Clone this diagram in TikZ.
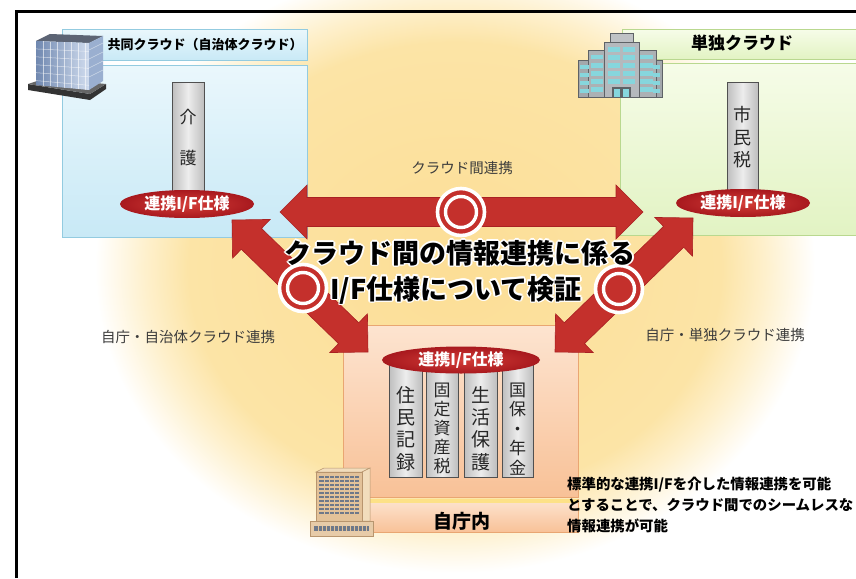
\documentclass[tikz,border=0pt]{standalone}
\usepackage{fontspec}
\setmainfont{Noto Sans CJK JP}
\usetikzlibrary{shapes.geometric}

\definecolor{glowin}{HTML}{FCDE96}
\definecolor{glowmid}{HTML}{FCE4A6}
\definecolor{glowfade}{HTML}{FEF0CC}
\definecolor{arrowred}{HTML}{C4302C}
\definecolor{arrowedge}{HTML}{A92123}
\definecolor{ellin}{HTML}{D43D38}
\definecolor{ellout}{HTML}{A8191E}
\definecolor{blueline}{HTML}{93CBE0}
\definecolor{bluetop}{HTML}{EAF7FC}
\definecolor{bluebot}{HTML}{C8E9F6}
\definecolor{greenline}{HTML}{B9D88F}
\definecolor{greentop}{HTML}{F6FCE8}
\definecolor{greenbot}{HTML}{E2F3C3}
\definecolor{orline}{HTML}{E9A672}
\definecolor{ortop}{HTML}{FDE4D0}
\definecolor{orbot}{HTML}{F8C197}
\definecolor{barline}{HTML}{505050}
\definecolor{barside}{HTML}{BEBEBE}
\definecolor{barmid}{HTML}{EDEDED}
\definecolor{labelgray}{HTML}{3C3C3C}
\definecolor{bldgray}{HTML}{A3A8AC}
\definecolor{bldline}{HTML}{5E6266}
\definecolor{bldwin}{HTML}{86D6DD}
\definecolor{beige}{HTML}{E3C299}
\definecolor{beigeline}{HTML}{B8956E}
\definecolor{beigelight}{HTML}{F2DDBC}
\definecolor{winblue}{HTML}{6E7889}
\definecolor{glassdark}{HTML}{7088B0}
\definecolor{glasslight}{HTML}{D0DCEE}
\definecolor{glassside}{HTML}{9AAFD0}
\definecolor{glasstop}{HTML}{5C6474}

\pgfdeclareradialshading{glow}{\pgfpoint{0bp}{0bp}}{%
  color(0bp)=(glowin); color(18.5bp)=(glowmid); color(21.5bp)=(glowfade);
  color(25bp)=(white); color(50bp)=(white)}

% double-headed block arrow between two named points
\newcommand\blockarrow[2]{%
  \pgfpointdiff{\pgfpointanchor{#1}{center}}{\pgfpointanchor{#2}{center}}%
  \pgfgetlastxy{\bax}{\bay}%
  \pgfmathsetmacro\baang{atan2(\bay,\bax)}%
  \pgfmathsetmacro\balen{veclen(\bax,\bay)}%
  \pgfmathsetmacro\bab{\balen-27}%
  \begin{scope}[shift={(#1)},rotate=\baang]
    \fill[arrowred, draw=arrowedge, line width=0.6pt]
      (0pt,0pt) -- (27pt,27pt) -- (27pt,14.5pt) -- (\bab pt,14.5pt) -- (\bab pt,27pt)
      -- (\balen pt,0pt) -- (\bab pt,-27pt) -- (\bab pt,-14.5pt) -- (27pt,-14.5pt)
      -- (27pt,-27pt) -- cycle;
  \end{scope}}

% bold heading text with a thin white halo
\newcommand\halotext[4]{%
  \foreach \hx/\hy in {1.7/0,-1.7/0,0/1.7,0/-1.7,1.2/1.2,-1.2/1.2,1.2/-1.2,-1.2/-1.2}
    \node[titletext, text=white, xshift=\hx pt, yshift=\hy pt] at (#2,#3) {#4};
  \node[titletext] (#1) at (#2,#3) {#4};}

\begin{document}
\begin{tikzpicture}[x=1pt,y=-1pt,
  cloudbox/.style={anchor=north west, inner sep=0pt, line width=0.8pt},
  bluebox/.style={cloudbox, draw=blueline, top color=bluetop, bottom color=bluebot},
  greenbox/.style={cloudbox, draw=greenline, top color=greentop, bottom color=greenbot},
  orangebox/.style={cloudbox, draw=orline, top color=ortop, bottom color=orbot},
  barbox/.style={draw=barline, line width=1pt, left color=barside, right color=barside,
    middle color=barmid, inner sep=0pt},
  bartext/.style={align=center, text=black!85, inner sep=0pt},
  ifspec/.style={ellipse, inner sep=0pt, inner color=ellin, outer color=ellout, text=white,
    font=\fontsize{16}{18}\selectfont\bfseries},
  ringmark/.style={circle, fill=arrowred, draw=white, line width=3.6pt, minimum size=47pt,
    inner sep=0pt},
  lbl/.style={text=labelgray, inner sep=0pt, font=\fontsize{14.5}{16}\selectfont},
  titletext/.style={inner sep=0pt, font=\fontsize{27}{30}\selectfont\bfseries},
  headtext/.style={inner sep=0pt},
]
\useasboundingbox (0,0) rectangle (856,578);
\clip (0,0) rectangle (856,578);
\fill[white] (0,0) rectangle (856,578);

% warm background glow
\shade[shading=glow] (455,268) ellipse [x radius=360, y radius=305];

% cloud boxes
\node[bluebox, minimum width=245pt, minimum height=172pt] (lbox) at (62,65) {};
\node[bluebox, minimum width=245pt, minimum height=31pt] (lhead) at (62,29) {};
\node[greenbox, minimum width=260pt, minimum height=172pt] (rbox) at (620,63) {};
\node[greenbox, minimum width=260pt, minimum height=30pt] (rhead) at (622,29) {};
\node[headtext, font=\fontsize{13}{15}\selectfont\bfseries] (ltitle) at (205,44.5) {共同クラウド（自治体クラウド）};
\node[headtext, font=\fontsize{17}{19}\selectfont\bfseries] (rtitle) at (742,43) {単独クラウド};

% own-office box
\node[orangebox, minimum width=235pt, minimum height=172pt] (obox) at (343,325) {};
\node[orangebox, minimum width=235pt, minimum height=33pt] (ostrip) at (343,499) {};
\fill[yellow!55!orange!45] (343.4,499.4) rectangle (577.6,502.5);
\node[headtext, font=\fontsize{19}{21}\selectfont\bfseries] (jichonai) at (462,521) {自庁内};

% shared-cloud building (glass cube)
\fill[black!80] (28,84) -- (90,94) -- (106,84) -- (106,89) -- (90,100) -- (28,90) -- cycle;
\fill[black!60] (28,84) -- (46,78) -- (106,84) -- (90,94) -- cycle;
\fill[glasstop] (36,41) -- (50,34) -- (103,36) -- (89,43) -- cycle;
\shade[left color=glassdark, right color=glasslight] (36,41) -- (89,43) -- (89,90) -- (36,85) -- cycle;
\fill[glassside] (89,43) -- (103,36) -- (103,81) -- (89,90) -- cycle;
\foreach \gx in {43,50,57,64,71,78,85}
  \draw[white, opacity=0.6, line width=0.5pt] (\gx,{41+(\gx-36)/26}) -- (\gx,{85+(\gx-36)/10.6});
\foreach \gt in {0.18,0.36,0.54,0.72,0.9}
  \draw[white, opacity=0.6, line width=0.5pt] (36,{41+44*\gt}) -- (89,{43+47*\gt});
\foreach \gy in {50,59,68,77}
  \draw[white, opacity=0.5, line width=0.5pt] (89,\gy) -- (103,\gy-7);

% single-cloud building (grey block with wings)
\begin{scope}[draw=bldline, line width=0.6pt]
  \filldraw[fill=bldgray] (578,60) rectangle (592,97);
  \filldraw[fill=bldgray] (650,60) rectangle (662,97);
  \filldraw[fill=bldgray!90] (588,50) rectangle (606,97);
  \filldraw[fill=bldgray!90] (637,50) rectangle (656,97);
  \filldraw[fill=bldgray!80] (604,42) rectangle (639,97);
  \filldraw[fill=bldgray!70] (610,33) rectangle (633,42);
\end{scope}
\foreach \wy in {47,55,63,71,79} {
  \fill[bldwin] (608,\wy) rectangle (620,\wy+5);
  \fill[bldwin] (623,\wy) rectangle (635,\wy+5);}
\foreach \wy in {55,63,71,79,87} {
  \fill[bldwin] (591,\wy) rectangle (603,\wy+4.5);
  \fill[bldwin] (640,\wy) rectangle (653,\wy+4.5);}
\foreach \wy in {65,73,81,89} {
  \fill[bldwin] (580,\wy) rectangle (589,\wy+4);
  \fill[bldwin] (653,\wy) rectangle (660,\wy+4);}
\fill[bldline] (612,87) rectangle (631,97);
\fill[bldwin] (614,89) rectangle (620,97);
\fill[bldwin] (623,89) rectangle (629,97);

% own-office building
\filldraw[fill=beigelight, draw=beigeline, line width=0.5pt] (316,472) -- (324,468) -- (370,468) -- (362,472) -- cycle;
\filldraw[fill=beigelight, draw=beigeline, line width=0.5pt] (362,472) -- (370,468) -- (370,521) -- (362,521) -- cycle;
\filldraw[fill=beige, draw=beigeline, line width=0.5pt] (316,472) rectangle (362,521);
\foreach \wy in {476,480,...,515}
  \fill[winblue] (319,\wy) rectangle (359,\wy+2.3);
\foreach \wx in {324,329,...,354}
  \draw[beige, line width=0.6pt] (\wx,475) -- (\wx,518);
\filldraw[fill=beige!85!white, draw=beigeline, line width=0.5pt] (310,521) rectangle (373,536);
\fill[winblue] (314,526) rectangle (369,531);
\foreach \wx in {318,322,...,366}
  \draw[beige, line width=0.5pt] (\wx,526) -- (\wx,531);

% application bars
\node[barbox, minimum width=32pt, minimum height=118pt] (kaigo) at (188,141) {};
\node[barbox, minimum width=31pt, minimum height=118pt] (shiminzei) at (742.5,141) {};
\node[barbox, minimum width=33pt, minimum height=119pt] (jumin) at (405.5,417.5) {};
\node[barbox, minimum width=32pt, minimum height=119pt] (kotei) at (442,417.5) {};
\node[barbox, minimum width=33pt, minimum height=119pt] (seikatsu) at (480.5,417.5) {};
\node[barbox, minimum width=31pt, minimum height=119pt] (kokuho) at (517.5,417.5) {};
\node[bartext, font=\fontsize{17}{41}\selectfont] (kaigot) at (188,137.5) {介\\護};
\node[bartext, font=\fontsize{18}{22.5}\selectfont] (shiminzeit) at (742.5,137.5) {市\\民\\税};
\node[bartext, font=\fontsize{19}{22.3}\selectfont] (jumint) at (405.5,428.5) {住\\民\\記\\録};
\node[bartext, font=\fontsize{17}{19}\selectfont] (koteit) at (442,428) {固\\定\\資\\産\\税};
\node[bartext, font=\fontsize{19}{22.3}\selectfont] (seikatsut) at (480.5,428.5) {生\\活\\保\\護};
\node[bartext, font=\fontsize{17}{19.5}\selectfont] (kokuhot) at (517.5,429) {国\\保\\・\\年\\金};

% interface specification ovals
\node[ifspec, minimum width=134pt, minimum height=28pt] (lif) at (187,204) {連携I/F仕様};
\node[ifspec, minimum width=134pt, minimum height=28pt] (rif) at (743,203) {連携I/F仕様};
\node[ifspec, minimum width=158pt, minimum height=27pt] (oif) at (461,360) {連携I/F仕様};

% linkage arrows
\coordinate (hL) at (280,212);
\coordinate (hR) at (643,212);
\coordinate (dLa) at (232,220);
\coordinate (dLb) at (368,352);
\coordinate (dRa) at (693,218);
\coordinate (dRb) at (555,352);
\blockarrow{hL}{hR}
\blockarrow{dLa}{dLb}
\blockarrow{dRa}{dRb}

% double-circle marks
\node[ringmark] (ringH) at (461,212) {};
\node[ringmark] (ringL) at (303,288) {};
\node[ringmark] (ringR) at (619,289) {};
\foreach \r in {ringH,ringL,ringR}
  \draw[white, line width=3.4pt] (\r.center) circle [radius=15.5pt];

% link labels
\node[lbl] (lblH) at (462,168) {クラウド間連携};
\node[lbl] (lblL) at (188,337) {自庁・自治体クラウド連携};
\node[lbl] (lblR) at (725,335) {自庁・単独クラウド連携};

% heading
\halotext{head1}{460}{253}{クラウド間の情報連携に係る}
\halotext{head2}{456}{290}{I/F仕様について検証}

% note
\node[anchor=north west, inner sep=0pt, align=left, font=\fontsize{14.4}{21}\selectfont\bfseries] (note) at (567,477)
  {標準的な連携I/Fを介した情報連携を可能\\とすることで、クラウド間でのシームレスな\\情報連携が可能};

% frame
\draw[black, line width=2.6pt] (16.5,578) -- (16.5,11.5) -- (856,11.5);
\end{tikzpicture}
\end{document}
